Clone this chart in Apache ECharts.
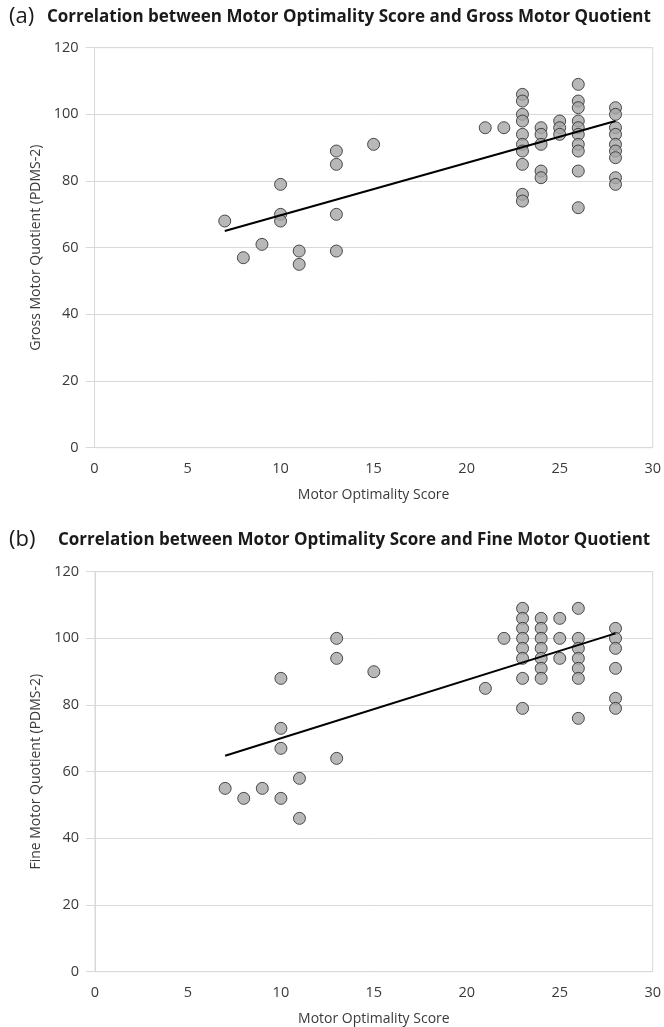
<!DOCTYPE html>
<html>
<head>
<meta charset="utf-8">
<script src="https://cdn.jsdelivr.net/npm/echarts@6/dist/echarts.min.js"></script>
<style>
html,body{margin:0;padding:0;background:#fff;}
#chart{width:664px;height:1027px;}
</style>
</head>
<body>
<div id="chart"></div>
<script>
// Panel (a): Motor Optimality Score vs Gross Motor Quotient
const mosA = [7,8,9,10,10,10,11,11,13,13,13,13,15,21,22,
  23,23,23,23,23,23,23,23,23,23,
  24,24,24,24,24,
  25,25,25,
  26,26,26,26,26,26,26,26,26,26,
  28,28,28,28,28,28,28,28,28];
const gmq = [68,57,61,79,70,68,59,55,89,85,70,59,91,96,96,
  106,104,100,98,94,91,89,85,76,74,
  96,94,91,83,81,
  98,96,94,
  109,104,102,98,96,94,91,89,83,72,
  102,100,96,94,91,89,87,81,79];
const trendA = [[7,65],[28,98]];

// Panel (b): Motor Optimality Score vs Fine Motor Quotient
const mosB = [7,8,9,10,10,10,10,11,11,13,13,13,15,21,22,
  23,23,23,23,23,23,23,23,
  24,24,24,24,24,24,24,
  25,25,25,
  26,26,26,26,26,26,26,
  28,28,28,28,28,28];
const fmq = [55,52,55,88,73,67,52,58,46,100,94,64,90,85,100,
  109,106,103,100,97,94,88,79,
  106,103,100,97,94,91,88,
  106,100,94,
  109,100,97,94,91,88,76,
  103,100,97,91,82,79];
const trendB = [[7,64.8],[28,101.5]];

const xTicks = [0,5,10,15,20,25,30];
const yTicks = [0,20,40,60,80,100,120];

const titleA = 'Correlation between Motor Optimality Score and Gross Motor Quotient';
const titleB = 'Correlation between Motor Optimality Score and Fine Motor Quotient';
const xName = 'Motor Optimality Score';
const yNameA = 'Gross Motor Quotient (PDMS-2)';
const yNameB = 'Fine Motor Quotient (PDMS-2)';

const pts = (xs, ys) => xs.map((x, i) => [x, ys[i]]);
const FONT = "'Open Sans', 'Liberation Sans', sans-serif";
const GRID = '#d9d9d9';
const LABEL = '#3a3a3a';

function xAxis(gi){
  return {
    gridIndex: gi, type: 'value', min: xTicks[0], max: xTicks[xTicks.length-1], interval: 5,
    name: xName, nameLocation: 'middle', nameGap: 40,
    nameTextStyle: {color: LABEL, fontSize: 14, fontFamily: FONT},
    axisLine: {show: true, lineStyle: {color: GRID, width: 1}},
    axisTick: {show: false},
    axisLabel: {color: LABEL, fontSize: 14.5, fontFamily: FONT, margin: 14},
    splitLine: {show: false}
  };
}
function yAxis(gi, nm){
  return {
    gridIndex: gi, type: 'value', min: yTicks[0], max: yTicks[yTicks.length-1], interval: 20,
    name: nm, nameLocation: 'middle', nameGap: 47, nameRotate: 90,
    nameTextStyle: {color: LABEL, fontSize: 14, fontFamily: FONT},
    axisLine: {show: true, lineStyle: {color: GRID, width: 1}},
    axisTick: {show: true, length: 9, lineStyle: {color: GRID}},
    axisLabel: {color: LABEL, fontSize: 14.5, fontFamily: FONT, margin: 16},
    splitLine: {show: true, lineStyle: {color: GRID, width: 1}}
  };
}
const scatterStyle = {color: '#a6a6a6', borderColor: '#262626', borderWidth: 1};

const chart = echarts.init(document.getElementById('chart'), null, {renderer: 'canvas'});
chart.setOption({
  animation: false,
  backgroundColor: '#fff',
  grid: [
    {left: 94.5, top: 47.7, width: 559.5, height: 400, show: true, borderColor: GRID, borderWidth: 1, backgroundColor: 'transparent'},
    {left: 95, top: 571.7, width: 559, height: 400, show: true, borderColor: GRID, borderWidth: 1, backgroundColor: 'transparent'}
  ],
  xAxis: [xAxis(0), xAxis(1)],
  yAxis: [yAxis(0, yNameA), yAxis(1, yNameB)],
  graphic: [
    {type: 'text', left: 9, top: 6, style: {text: '(a)', fontSize: 22, fontFamily: FONT, fill: '#1a1a1a'}},
    {type: 'text', left: 47, top: 9, style: {text: titleA, fontSize: 17, fontWeight: 'bold', fontFamily: FONT, fill: '#1a1a1a'}},
    {type: 'text', left: 9, top: 529, style: {text: '(b)', fontSize: 22, fontFamily: FONT, fill: '#1a1a1a'}},
    {type: 'text', left: 58, top: 532, style: {text: titleB, fontSize: 17, fontWeight: 'bold', fontFamily: FONT, fill: '#1a1a1a'}}
  ],
  series: [
    {type: 'line', xAxisIndex: 0, yAxisIndex: 0, data: trendA, symbol: 'none', lineStyle: {color: '#000', width: 2}, z: 3},
    {type: 'scatter', xAxisIndex: 0, yAxisIndex: 0, data: pts(mosA, gmq), symbol: 'circle', symbolSize: 12, itemStyle: scatterStyle, z: 2},
    {type: 'line', xAxisIndex: 1, yAxisIndex: 1, data: trendB, symbol: 'none', lineStyle: {color: '#000', width: 2}, z: 3},
    {type: 'scatter', xAxisIndex: 1, yAxisIndex: 1, data: pts(mosB, fmq), symbol: 'circle', symbolSize: 12, itemStyle: scatterStyle, z: 2}
  ]
});
</script>
</body>
</html>
